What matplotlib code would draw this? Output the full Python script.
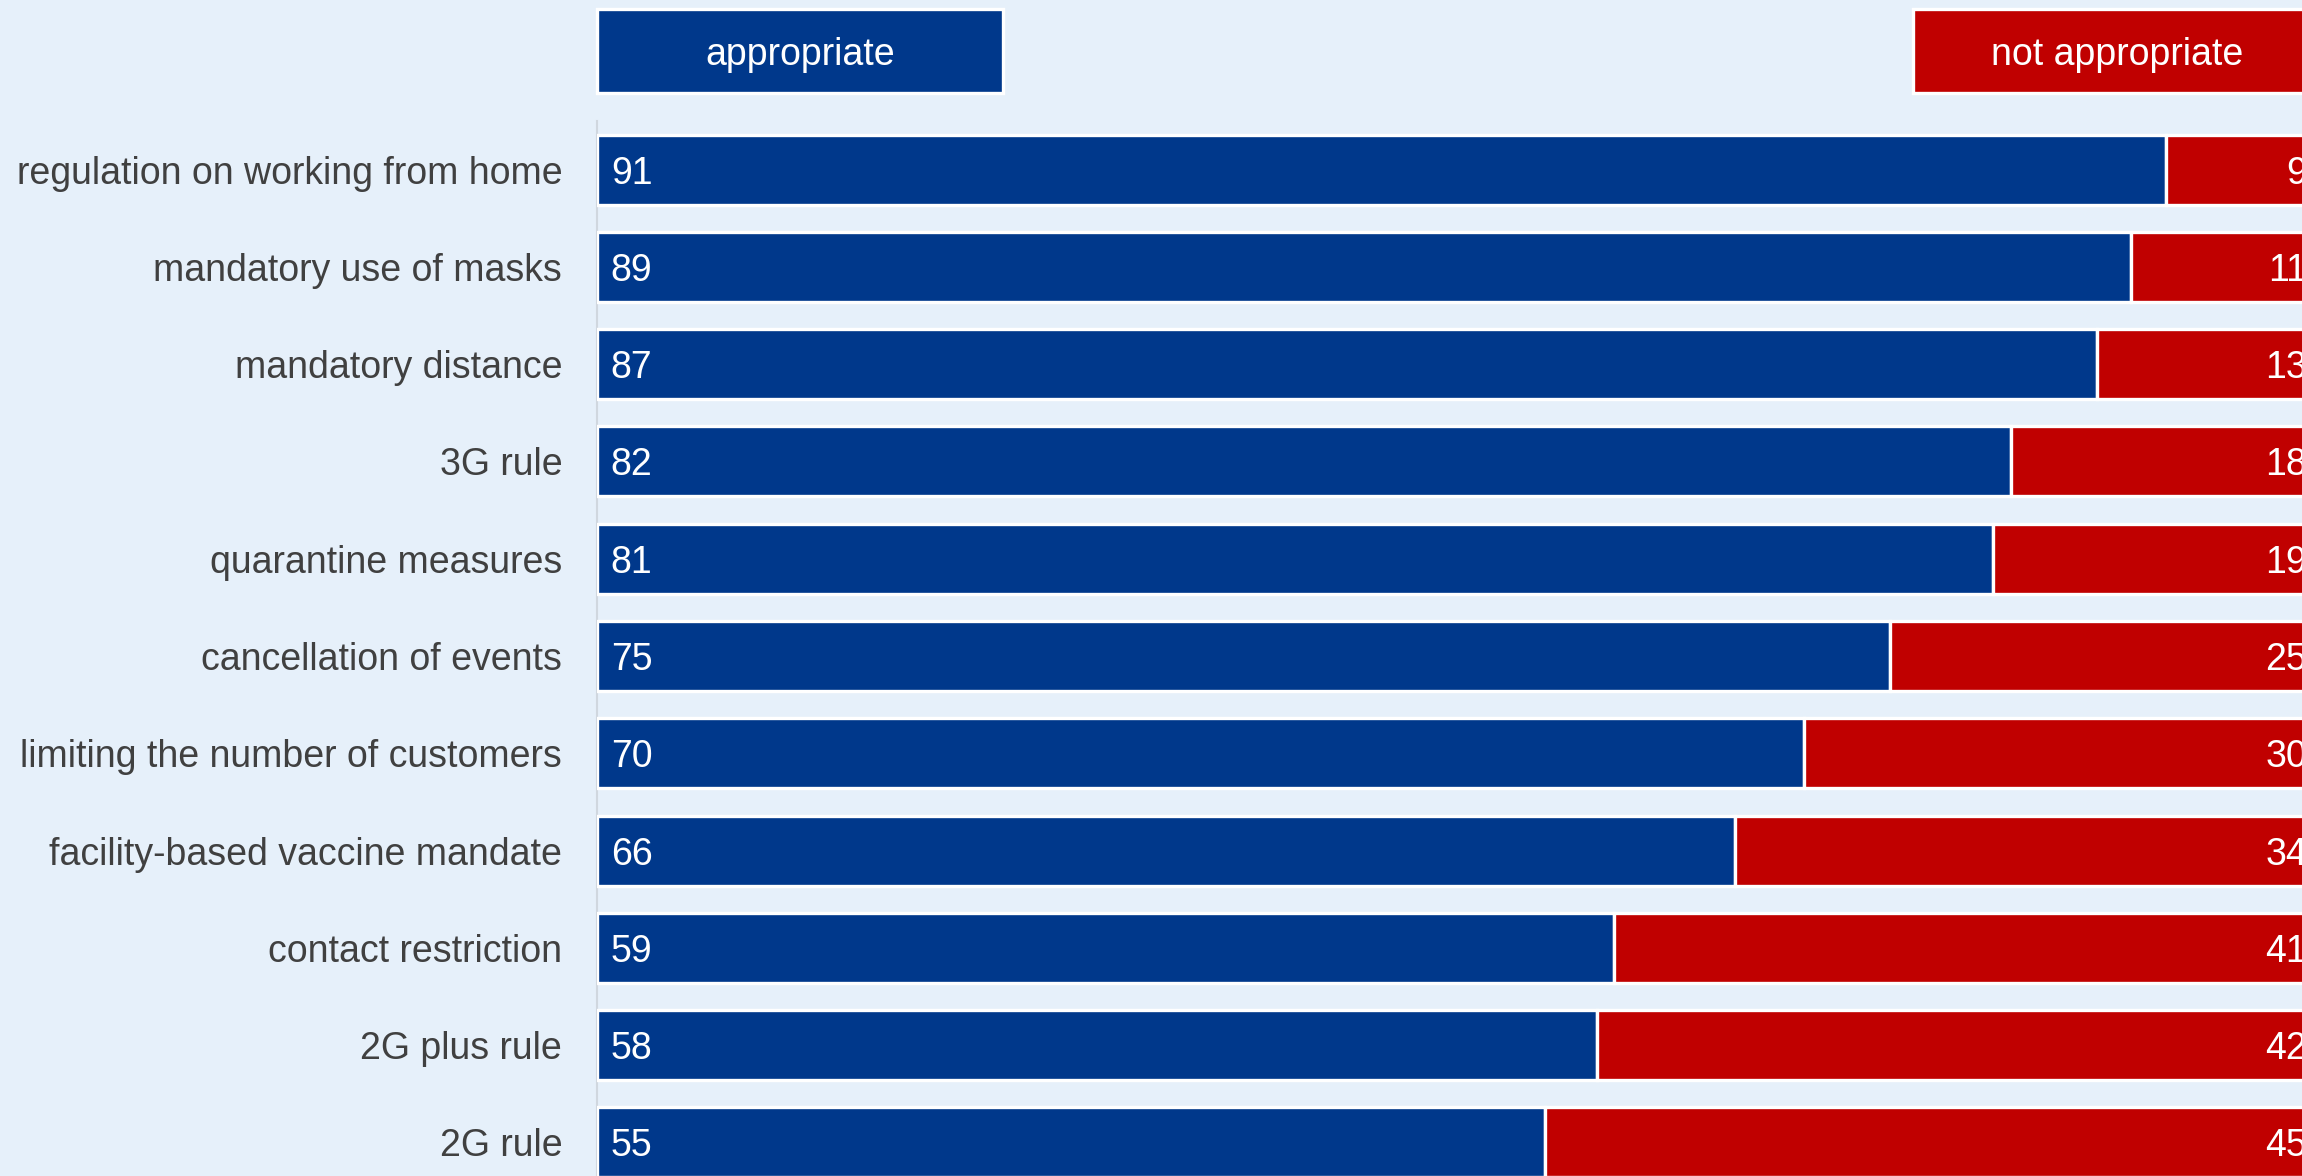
import numpy as np
import matplotlib.pyplot as plt
import matplotlib.patches as mpatches

BG = "#E6F0FA"
BLUE = "#00388B"
RED = "#C00000"
WHITE = "#FFFFFF"
TXT = "#404040"

measures = [
    "regulation on working from home",
    "mandatory use of masks",
    "mandatory distance",
    "3G rule",
    "quarantine measures",
    "cancellation of events",
    "limiting the number of customers",
    "facility-based vaccine mandate",
    "contact restriction",
    "2G plus rule",
    "2G rule",
]
appropriate = [91, 89, 87, 82, 81, 75, 70, 66, 59, 58, 55]
not_appropriate = [9, 11, 13, 18, 19, 25, 30, 34, 41, 42, 45]
legend_labels = ["appropriate", "not appropriate"]

plt.rcParams["font.family"] = ["Liberation Sans", "DejaVu Sans"]

fig = plt.figure(figsize=(23.02, 11.76), dpi=100)
fig.patch.set_facecolor(BG)
ax = fig.add_axes([0.2593, -0.01276, 0.7489, 0.9099])
ax.set_facecolor(BG)

y = np.arange(len(measures))
app = np.array(appropriate, dtype=float)
nap = np.array(not_appropriate, dtype=float)

bars_a = ax.barh(y, app, height=0.72, color=BLUE, edgecolor=WHITE, lw=2.4, zorder=3)
bars_n = ax.barh(y, nap, left=app, height=0.72, color=RED, edgecolor=WHITE, lw=2.4, zorder=3)

for b, v in zip(bars_a, app):
    ax.annotate(f"{v:.0f}", (0, b.get_y() + b.get_height() / 2),
                xytext=(10, 0), textcoords="offset points",
                va="center_baseline", ha="left", fontsize=27, color=WHITE, zorder=4)
for b, v in zip(bars_n, nap):
    ax.annotate(f"{v:.0f}", (b.get_x() + b.get_width(), b.get_y() + b.get_height() / 2),
                xytext=(-10, 0), textcoords="offset points",
                va="center_baseline", ha="right", fontsize=27, color=WHITE, zorder=4)

ax.set_xlim(0, 100)
ax.set_ylim(len(measures) - 0.5, -0.5)
ax.set_yticks(y)
ax.set_yticklabels(measures, fontsize=27, color=TXT)
ax.tick_params(axis="y", length=0, pad=25)
ax.xaxis.set_visible(False)
for side in ["top", "right", "bottom"]:
    ax.spines[side].set_visible(False)
ax.spines["left"].set_color("#D0D7DF")
ax.spines["left"].set_linewidth(1.5)
ax.spines["left"].set_zorder(1)

# legend boxes above the plot
boxes = [(0.0, 0.2355, BLUE), (0.7633, 0.2367, RED)]
for (x0, w, c), lab in zip(boxes, legend_labels):
    ax.add_patch(mpatches.Rectangle((x0, 1.0262), w, 0.0785, transform=ax.transAxes,
                                    facecolor=c, edgecolor=WHITE, lw=2.4, clip_on=False))
    ax.text(x0 + w / 2, 1.0654, lab, transform=ax.transAxes, ha="center",
            va="center_baseline", fontsize=27, color=WHITE)

fig.savefig("out.png", dpi=100, facecolor=BG)
plt.close()
